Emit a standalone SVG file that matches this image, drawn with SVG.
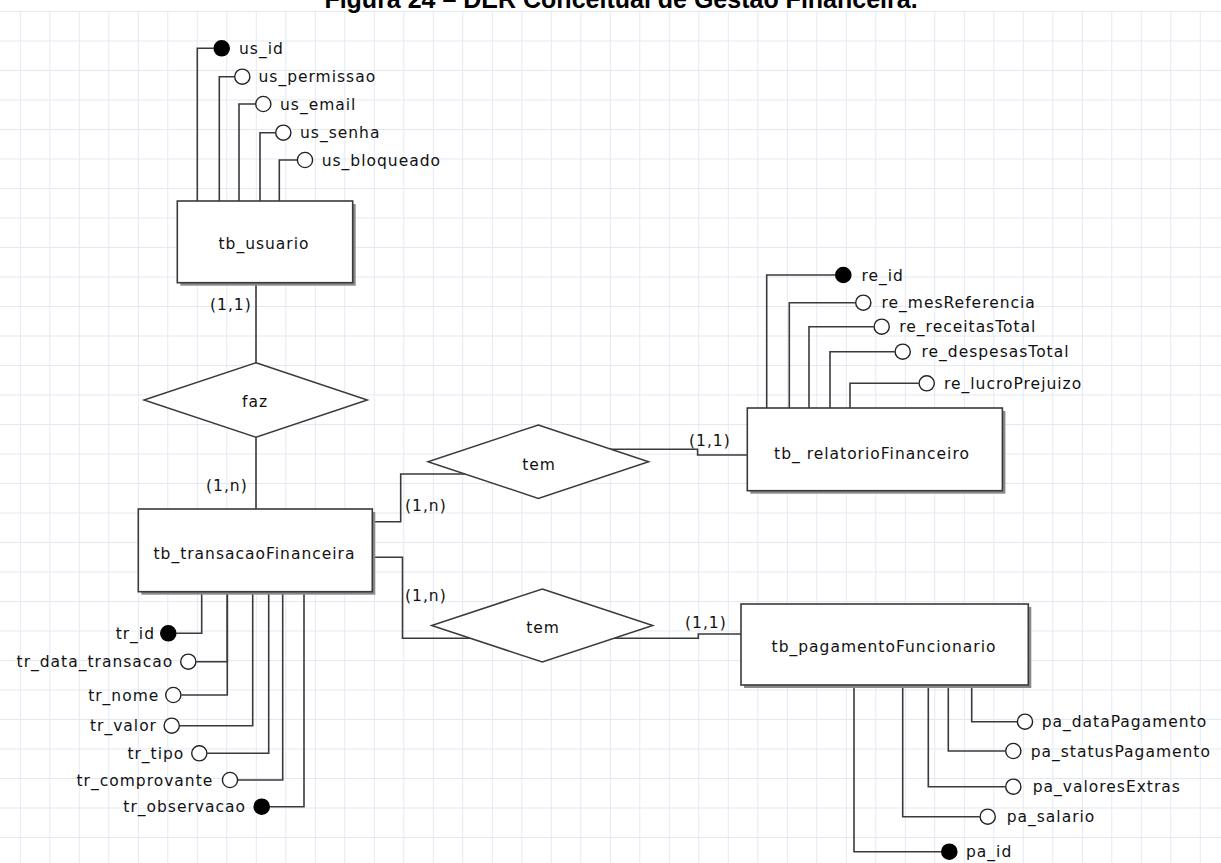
<svg xmlns="http://www.w3.org/2000/svg" width="1221" height="863" viewBox="0 0 1221 863">
<style>
.t{font-family:"DejaVu Sans",Verdana,sans-serif;font-size:15.5px;letter-spacing:1px;fill:#111}
.e{text-anchor:end}
.m{text-anchor:middle}
.c{fill:none;stroke:#3a3a3a;stroke-width:1.6}
.ent{fill:#fff;stroke:#3a3a3a;stroke-width:1.6}
.sh{fill:#8a8a8a}
.rel{fill:#fff;stroke:#3a3a3a;stroke-width:1.5}
.o{fill:#fff;stroke:#222;stroke-width:1.4}
.f{fill:#000;stroke:#000;stroke-width:1.4}
.title{font-family:"Liberation Sans",Arial,sans-serif;font-weight:bold;font-size:25px;fill:#000;text-anchor:middle}
</style>
<defs>
<pattern id="grid" patternUnits="userSpaceOnUse" x="19.8" y="11" width="29.5" height="29.5">
<path d="M0.5 0V29.5M0 0.5H29.5" fill="none" stroke="#e3e9f3" stroke-width="1"/>
</pattern>
</defs>
<rect x="0" y="0" width="1221" height="863" fill="#fff"/>
<rect x="0" y="11" width="1221" height="852" fill="url(#grid)"/>
<text class="title" x="621" y="8">Figura 24 – DER Conceitual de Gestão Financeira.</text>

<g id="connectors">
<path class="c" d="M197.3 201V48.3H213.7"/>
<path class="c" d="M219.3 201V76.7H234.3"/>
<path class="c" d="M239 201V104H255.3"/>
<path class="c" d="M260 201V132.7H275.3"/>
<path class="c" d="M279.3 201V160H297"/>
<path class="c" d="M256 283V400"/>
<path class="c" d="M256 400V509"/>
<path class="c" d="M372.3 521.7H400.7V474H500"/>
<path class="c" d="M580 449.3H697.6V455H747.3"/>
<path class="c" d="M372.3 557.3H402.5V638.3H500"/>
<path class="c" d="M590 638.3H698.3V634H741"/>
<path class="c" d="M766.7 408V275H835.3"/>
<path class="c" d="M789.3 408V302.7H855.3"/>
<path class="c" d="M809 408V326.7H873.7"/>
<path class="c" d="M830 408V351.7H894.7"/>
<path class="c" d="M850 408V383.3H918.7"/>
<path class="c" d="M971.7 685V721.7H1017"/>
<path class="c" d="M948.3 685V751H1005.3"/>
<path class="c" d="M928.3 685V786.7H1005.3"/>
<path class="c" d="M902.7 685V816.7H979.7"/>
<path class="c" d="M854 685V851.7H941.3"/>
<path class="c" d="M201.7 592V633.3H176.3"/>
<path class="c" d="M227.3 592V661.7H196.3"/>
<path class="c" d="M227.3 592V695H181.3"/>
<path class="c" d="M252.7 592V725.7H179.7"/>
<path class="c" d="M268.7 592V753.3H207.3"/>
<path class="c" d="M282.7 592V780H238"/>
<path class="c" d="M304 592V806.7H269.7"/>
<text class="t" x="210" y="310">(1,1)</text>
<text class="t" x="206" y="491">(1,n)</text>
<text class="t" x="405" y="511">(1,n)</text>
<text class="t" x="689" y="446">(1,1)</text>
<text class="t" x="405" y="601">(1,n)</text>
<text class="t" x="685" y="628">(1,1)</text>
</g>

<g id="tb_usuario">
<rect class="sh" x="180.3" y="204" width="175.4" height="81.7"/>
<rect class="ent" x="177.3" y="201" width="175.4" height="81.7"/>
<text class="t m" x="264" y="248.5">tb_usuario</text>
</g>
<g id="tb_transacaoFinanceira">
<rect class="sh" x="141.3" y="512" width="234" height="82.7"/>
<rect class="ent" x="138.3" y="509" width="234" height="82.7"/>
<text class="t m" x="254.5" y="558.5">tb_transacaoFinanceira</text>
</g>
<g id="tb_relatorioFinanceiro">
<rect class="sh" x="750.3" y="411" width="255.1" height="82.7"/>
<rect class="ent" x="747.3" y="408" width="255.1" height="82.7"/>
<text class="t m" x="872" y="458.5">tb_ relatorioFinanceiro</text>
</g>
<g id="tb_pagamentoFuncionario">
<rect class="sh" x="744" y="607" width="287.3" height="81"/>
<rect class="ent" x="741" y="604" width="287.3" height="81"/>
<text class="t m" x="884" y="652">tb_pagamentoFuncionario</text>
</g>

<g id="rel_faz">
<polygon class="rel" points="256,362.7 367.3,400 256,437.3 144,400"/>
<text class="t m" x="255" y="407">faz</text>
</g>
<g id="rel_tem_relatorio">
<polygon class="rel" points="538.3,425 648.6,461.7 538.3,498.4 428,461.7"/>
<text class="t m" x="539" y="470">tem</text>
</g>
<g id="rel_tem_pagamento">
<polygon class="rel" points="542.3,589 652.7,625.5 542.3,662 431.7,625.5"/>
<text class="t m" x="543" y="633">tem</text>
</g>

<g id="attr_us_id"><circle class="f" cx="221.7" cy="48.3" r="7.6"/><text class="t" x="239" y="53.8">us_id</text></g>
<g id="attr_us_permissao"><circle class="o" cx="242.3" cy="76.7" r="7.6"/><text class="t" x="258.5" y="82.2">us_permissao</text></g>
<g id="attr_us_email"><circle class="o" cx="263.3" cy="104" r="7.6"/><text class="t" x="280" y="109.5">us_email</text></g>
<g id="attr_us_senha"><circle class="o" cx="283.3" cy="132.7" r="7.6"/><text class="t" x="300" y="138.2">us_senha</text></g>
<g id="attr_us_bloqueado"><circle class="o" cx="305" cy="160" r="7.6"/><text class="t" x="321.7" y="165.5">us_bloqueado</text></g>

<g id="attr_re_id"><circle class="f" cx="843.3" cy="275" r="7.6"/><text class="t" x="861.5" y="280.5">re_id</text></g>
<g id="attr_re_mesReferencia"><circle class="o" cx="863.3" cy="302.7" r="7.6"/><text class="t" x="881.5" y="308.2">re_mesReferencia</text></g>
<g id="attr_re_receitasTotal"><circle class="o" cx="881.7" cy="326.7" r="7.6"/><text class="t" x="899.3" y="332.2">re_receitasTotal</text></g>
<g id="attr_re_despesasTotal"><circle class="o" cx="902.7" cy="351.7" r="7.6"/><text class="t" x="921.5" y="357.2">re_despesasTotal</text></g>
<g id="attr_re_lucroPrejuizo"><circle class="o" cx="926.7" cy="383.3" r="7.6"/><text class="t" x="944" y="388.8">re_lucroPrejuizo</text></g>

<g id="attr_pa_dataPagamento"><circle class="o" cx="1025" cy="721.7" r="7.6"/><text class="t" x="1041.7" y="727.2">pa_dataPagamento</text></g>
<g id="attr_pa_statusPagamento"><circle class="o" cx="1013.3" cy="751" r="7.6"/><text class="t" x="1030.7" y="756.5">pa_statusPagamento</text></g>
<g id="attr_pa_valoresExtras"><circle class="o" cx="1013.3" cy="786.7" r="7.6"/><text class="t" x="1032.7" y="792.2">pa_valoresExtras</text></g>
<g id="attr_pa_salario"><circle class="o" cx="987.7" cy="816.7" r="7.6"/><text class="t" x="1006.7" y="822.2">pa_salario</text></g>
<g id="attr_pa_id"><circle class="f" cx="949.3" cy="851.7" r="7.6"/><text class="t" x="966" y="857.2">pa_id</text></g>

<g id="attr_tr_id"><circle class="f" cx="168.3" cy="633.3" r="7.6"/><text class="t e" x="155" y="638.8">tr_id</text></g>
<g id="attr_tr_data_transacao"><circle class="o" cx="188.3" cy="661.7" r="7.6"/><text class="t e" x="173.3" y="667.2">tr_data_transacao</text></g>
<g id="attr_tr_nome"><circle class="o" cx="173.3" cy="695" r="7.6"/><text class="t e" x="159.3" y="700.5">tr_nome</text></g>
<g id="attr_tr_valor"><circle class="o" cx="171.7" cy="725.7" r="7.6"/><text class="t e" x="157" y="731.2">tr_valor</text></g>
<g id="attr_tr_tipo"><circle class="o" cx="199.3" cy="753.3" r="7.6"/><text class="t e" x="184.3" y="758.8">tr_tipo</text></g>
<g id="attr_tr_comprovante"><circle class="o" cx="230" cy="780" r="7.6"/><text class="t e" x="213.3" y="785.5">tr_comprovante</text></g>
<g id="attr_tr_observacao"><circle class="f" cx="261.7" cy="806.7" r="7.6"/><text class="t e" x="246" y="812.2">tr_observacao</text></g>
</svg>
